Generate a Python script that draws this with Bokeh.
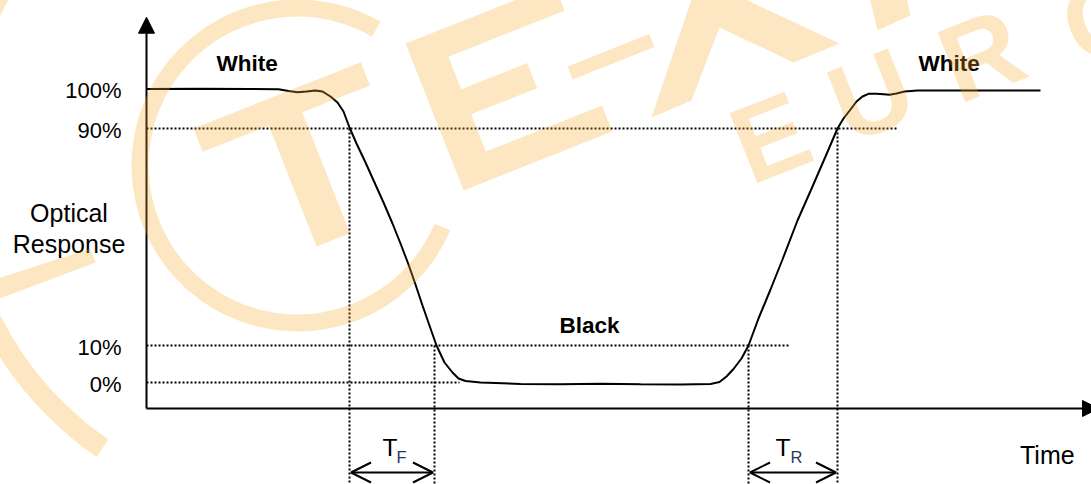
import math
from bokeh.plotting import figure
from bokeh.models import Range1d, Arrow, NormalHead, OpenHead
from bokeh.core.properties import value
from bokeh.embed import file_html
from bokeh.resources import INLINE

# ---------------- data (schematic units: time from axis origin, response level above 0 %) ----
time = [0, 54, 104, 132, 142, 151, 160, 169, 176, 184,
        191, 197, 203, 210, 219, 228, 237, 246, 254, 262,
        269, 276, 284, 290, 298, 306, 312, 319, 334, 374,
        414, 454, 494, 534, 564, 573, 580, 587, 595, 602,
        612, 624, 636, 651, 666, 679, 691, 697, 704, 710,
        716, 722, 730, 737, 743, 750, 758, 771, 814, 854, 894]
response = [293.5, 293.7, 293.6, 293.2, 291.5, 290.3, 291.0, 292.0, 291.0, 286,
            280, 271, 255, 239, 220, 200, 180, 159, 139, 118,
            98, 77, 54, 37, 20, 10, 4, 1.5, 0, -1.5,
            -1.8, -1.3, -1.8, -2, -1.5, 0.5, 6, 13.5, 24, 37,
            64, 93, 123, 162, 196, 226, 254, 264, 273, 281,
            286, 288.7, 288.8, 288.2, 287.7, 289, 291, 292, 292.1, 292, 292]

level_labels = ["0%", "10%", "90%", "100%"]
level_pos = [0, 37, 254, 293.5]

guide_levels = [0, 37, 254]          # dotted guides at 0 %, 10 %, 90 %
guide_end = [313, 644, 750]

t_fall = [203, 288]                  # 90 % -> 10 % (falling)
t_rise = [602, 691]                  # 10 % -> 90 % (rising)
cross_fall = [254, 37]
cross_rise = [37, 254]

state_labels = ["White", "Black", "White"]
state_t = [70, 413, 772]
state_r = [319.3, 57.3, 319.3]

FONT = value("Liberation Sans")

p = figure(width=1091, height=484, x_range=Range1d(-146, 945), y_range=Range1d(-102, 382),
           output_backend="svg", toolbar_location=None, min_border=0,
           x_axis_location=None, y_axis_location=None)
p.grid.visible = False
p.outline_line_color = None
p.background_fill_color = "white"

# dotted guides
p.segment(x0=[0] * 3, y0=guide_levels, x1=guide_end, y1=guide_levels,
          line_color="black", line_width=2, line_dash="2 2")
vx = t_fall + t_rise
vy = cross_fall + cross_rise
p.segment(x0=vx, y0=vy, x1=vx, y1=[-110] * 4, line_color="black", line_width=2, line_dash="2 2")

# response curve
p.line(time, response, line_color="black", line_width=2)

# axes
p.add_layout(Arrow(end=NormalHead(size=16, fill_color="black", line_color="black", line_width=1),
                   x_start=0, y_start=-26, x_end=0, y_end=365.3, line_width=2, line_color="black"))
p.add_layout(Arrow(end=NormalHead(size=16, fill_color="black", line_color="black", line_width=1),
                   x_start=0, y_start=-26, x_end=952, y_end=-26, line_width=2, line_color="black"))

# double arrows for TF and TR
for a, b in (t_fall, t_rise):
    p.add_layout(Arrow(start=OpenHead(size=20, line_width=2, line_color="black"),
                       end=OpenHead(size=20, line_width=2, line_color="black"),
                       x_start=a + 1.5, y_start=-90, x_end=b - 1.5, y_end=-90,
                       line_width=2, line_color="black"))

# level labels
p.text(x=[-25] * 4, y=[v - 1.5 for v in level_pos], text=level_labels, text_font=FONT,
       text_font_size="22px", text_color="black", text_align="right", text_baseline="alphabetic")

# axis titles
p.text(x=[-77.5, -77.5], y=[170, 139], text=["Optical", "Response"], text_font=FONT,
       text_font_size="25px", text_color="black", text_align="center", text_baseline="alphabetic")
p.text(x=[873.5], y=[-72.5], text=["Time"], text_font=FONT, text_font_size="25px",
       text_color="black", text_align="left", text_baseline="alphabetic")

# state labels
p.text(x=state_t, y=state_r, text=state_labels, text_font=FONT, text_font_style="bold",
       text_font_size="22.5px", text_color="black", text_align="left", text_baseline="alphabetic")

# T_F / T_R
p.text(x=[236, 629], y=[-65, -65], text=["T", "T"], text_font=FONT, text_font_size="24.5px",
       text_color="black", text_align="left", text_baseline="alphabetic")
p.text(x=[250, 644], y=[-74.5, -74.5], text=["F", "R"], text_font=FONT, text_font_size="16.5px",
       text_color="#1f3864", text_align="left", text_baseline="alphabetic")

# ---------------- watermark (decoration, drawn on top, semi-transparent) ----------------
WM = "#f9a825"
WA = 0.28
th = math.radians(21.6)
c, s = math.cos(th), math.sin(th)


def to_data(pts):
    return [px - 146 for px, py in pts], [382 - py for px, py in pts]


def letter(origin, local):
    ox, oy = origin
    return [(ox + a * c + d * s, oy - a * s + d * c) for a, d in local]


shapes = [
    letter((193, 128), [(0, 0), (180, 0), (180, 25), (107, 25), (107, 155), (71, 155), (71, 25), (0, 25)]),
    letter((405, 43), [(0, 0), (160, 0), (160, 28), (35, 28), (35, 63), (106, 63), (106, 90), (35, 90),
                       (35, 130), (160, 130), (160, 158), (0, 158)]),
    letter((567, 66), [(0, 0), (88, 0), (88, 14), (0, 14)]),
    [(651, 117), (691, 100), (719, 27), (793, 62), (839, 43), (713, -16), (696, -16)],
    [(866, -16), (877, 30), (910, 15), (903, -16)],
    [(-12, 281), (90, 248), (95, 262), (-12, 302)],
]
xs, ys = [], []
for sh in shapes:
    x, y = to_data(sh)
    xs.append(x)
    ys.append(y)
p.patches(xs, ys, fill_color=WM, fill_alpha=WA, line_color=None, level="overlay")

p.annular_wedge(x=[151, 151], y=[217, 217], inner_radius=[149, 333], outer_radius=[166, 354],
                start_angle=[math.radians(60), math.radians(150)],
                end_angle=[math.radians(-23), math.radians(235.4)],
                fill_color=WM, fill_alpha=WA, line_color=None, level="overlay")

wx, wy = to_data([(736, 150), (834, 109), (944, 69), (1066, 32)])
p.text(x=wx, y=wy, text=["E", "U", "R", "O"], angle=th, text_font=FONT, text_font_style="bold",
       text_font_size="109px", text_color=WM, text_alpha=WA, text_align="left",
       text_baseline="alphabetic", level="overlay")

open("out.html", "w").write(file_html(p, INLINE))
